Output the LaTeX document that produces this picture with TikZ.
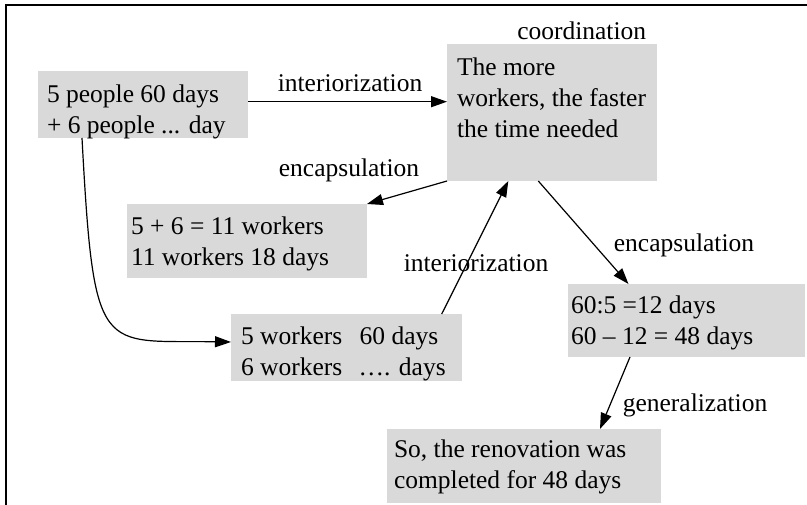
\documentclass[tikz,border=0pt]{standalone}
\usepackage{fontspec}
\setmainfont{Liberation Serif}
\usetikzlibrary{arrows.meta}
\definecolor{boxgray}{RGB}{217,217,217}
\begin{document}
\begin{tikzpicture}[x=1pt,y=-1pt,
  every node/.style={font=\fontsize{25.5}{31}\selectfont, inner sep=0pt, outer sep=0pt},
  graybox/.style={fill=boxgray, anchor=north west},
  boxtext/.style={anchor=base west},
  lbl/.style={anchor=base},
  conn/.style={line width=1.2pt, -{Triangle[length=16pt,width=11pt]}},
  frame/.style={line width=2pt, line join=miter}
]
\useasboundingbox (0,0) rectangle (807,505);
\draw[frame] (6,506) -- (6,5.5) -- (808,5.5);

% boxes
\node[graybox, minimum width=210pt, minimum height=67pt] (A) at (38,71) {};
\node[graybox, minimum width=210pt, minimum height=137pt] (B) at (447,44) {};
\node[graybox, minimum width=240pt, minimum height=74pt] (C) at (127,204) {};
\node[graybox, minimum width=231pt, minimum height=67pt] (D) at (231,314) {};
\node[graybox, minimum width=237pt, minimum height=73pt] (E) at (568,284) {};
\node[graybox, minimum width=274pt, minimum height=74pt] (F) at (387,429) {};

% box texts
\node[boxtext] (At) at (47,103) {\parbox[t]{200pt}{5 people 60 days\\+ 6 people ... day}};
\node[boxtext] (Bt) at (457,76) {\parbox[t]{198pt}{The more\\workers, the faster\\the time needed}};
\node[boxtext] (Ct) at (131,235) {\parbox[t]{230pt}{5 + 6 = 11 workers\\11 workers 18 days}};
\node[boxtext] (Dt) at (241,345) {\parbox[t]{220pt}{5 workers\hspace{11pt} 60 days\\6 workers\hspace{10pt} …. days}};
\node[boxtext] (Et) at (571,313.5) {\parbox[t]{230pt}{60:5 =12 days\\60 – 12 = 48 days}};
\node[boxtext] (Ft) at (394,457) {\parbox[t]{264pt}{So, the renovation was\\completed for 48 days}};

% labels
\node[lbl] (coord) at (581.7,39.3) {coordination};
\node[lbl] (l1) at (350,91.7) {interiorization};
\node[lbl] (l2) at (349,176.7) {encapsulation};
\node[lbl] (l3) at (476,271.7) {interiorization};
\node[lbl] (l4) at (684,251.7) {encapsulation};
\node[lbl] (l5) at (695,411.7) {generalization};

% connectors
\draw[conn] ([yshift=2.8pt]A.east) -- ([yshift=2.8pt]A.east -| B.west);
\draw[conn] (B.south west) -- (C.north east);
\draw[conn] ([xshift=95.2pt]D.north) -- ([xshift=-43.7pt]B.south);
\draw[conn] ([xshift=-13.7pt]B.south) -- ([xshift=-58pt]E.north);
\draw[conn] ([xshift=-56.5pt]E.south) -- ([xshift=76pt]F.north);
\draw[conn] ([xshift=-61pt]A.south) .. controls (94,360) and (100,340) .. ([yshift=5.5pt]D.west);
\end{tikzpicture}
\end{document}
